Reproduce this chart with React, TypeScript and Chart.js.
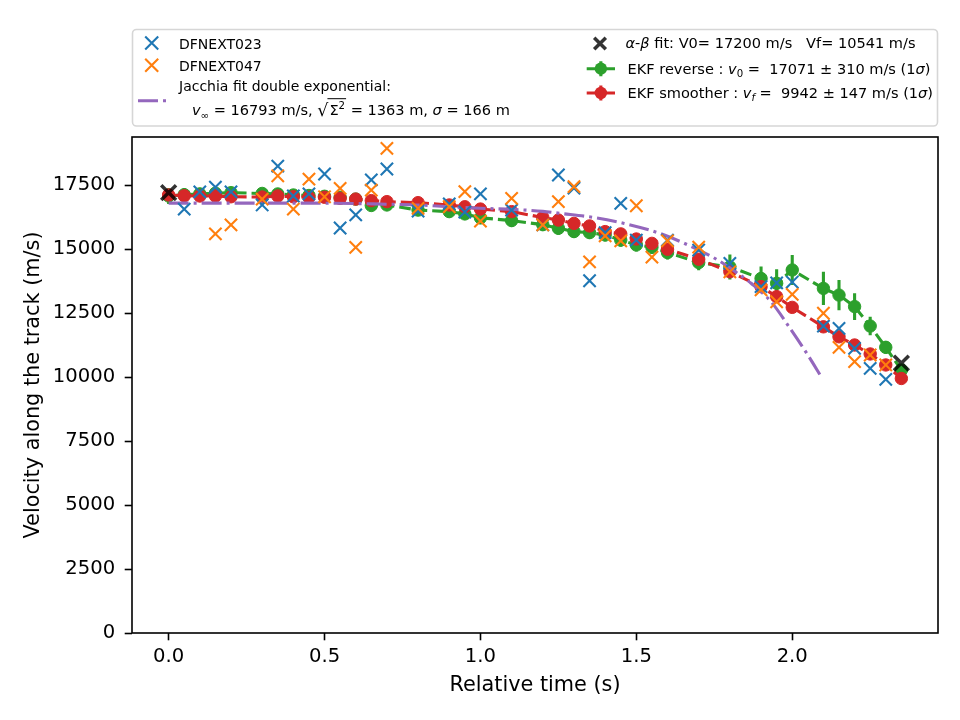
import { useEffect, useRef } from 'react';
import { Chart, registerables } from 'chart.js';

Chart.register(...registerables);

const FONT = '"DejaVu Sans", "Liberation Sans", sans-serif';

// Observations, station DFNEXT023
const t023 = [0.05, 0.1, 0.15, 0.2, 0.3, 0.35, 0.4, 0.45, 0.5, 0.55, 0.6, 0.65, 0.7, 0.8, 0.9, 0.95, 1.0, 1.1, 1.2, 1.25, 1.3, 1.35, 1.4, 1.45, 1.5, 1.6, 1.7, 1.8, 1.9, 1.95, 2.0, 2.1, 2.15, 2.2, 2.25, 2.3];
const v023 = [16560, 17230, 17420, 17230, 16720, 18240, 17070, 17150, 17930, 15820, 16330, 17700, 18125, 16480, 16760, 16445, 17150, 16520, 15940, 17890, 17380, 13760, 15640, 16785, 15350, 15350, 14960, 14440, 13530, 13680, 13710, 11990, 11900, 11120, 10340, 9910];

// Observations, station DFNEXT047
const t047 = [0.15, 0.2, 0.3, 0.35, 0.4, 0.45, 0.5, 0.55, 0.6, 0.65, 0.7, 0.8, 0.9, 0.95, 1.0, 1.1, 1.2, 1.25, 1.3, 1.35, 1.4, 1.45, 1.5, 1.55, 1.6, 1.7, 1.8, 1.9, 1.95, 2.0, 2.1, 2.15, 2.2, 2.25, 2.3];
const v047 = [15590, 15940, 16950, 17860, 16560, 17730, 17040, 17370, 15060, 17300, 18930, 16590, 16650, 17240, 16090, 16980, 15940, 16850, 17440, 14500, 15510, 15320, 16690, 14680, 15320, 15070, 14110, 13400, 12940, 13230, 12490, 11160, 10600, 10860, 10470];

// Jacchia double exponential fit
const jacchiaT = [0, 0.5, 0.7, 0.8, 0.9, 1.0, 1.1, 1.2, 1.257, 1.359, 1.461, 1.568, 1.665, 1.761, 1.825, 1.868, 1.932, 1.991, 2.05, 2.093];
const jacchiaV = [16793, 16790, 16750, 16720, 16650, 16590, 16550, 16470, 16390, 16240, 16000, 15640, 15160, 14570, 14050, 13660, 12940, 11940, 10860, 10010];

// alpha-beta fit end points
const abT = [0, 2.35];
const abV = [17200, 10541];

// EKF epochs (shared by both filters)
const ekfT = [0, 0.05, 0.1, 0.15, 0.2, 0.3, 0.35, 0.4, 0.45, 0.5, 0.55, 0.6, 0.65, 0.7, 0.8, 0.9, 0.95, 1.0, 1.1, 1.2, 1.25, 1.3, 1.35, 1.4, 1.45, 1.5, 1.55, 1.6, 1.7, 1.8, 1.9, 1.95, 2.0, 2.1, 2.15, 2.2, 2.25, 2.3, 2.35];
const ekfRevV = [17071, 17120, 17150, 17180, 17200, 17170, 17150, 17110, 17090, 17060, 17020, 16950, 16700, 16720, 16520, 16460, 16370, 16220, 16110, 15950, 15810, 15680, 15640, 15550, 15350, 15160, 15070, 14860, 14470, 14300, 13850, 13660, 14180, 13460, 13200, 12750, 11990, 11160, 10270];
const ekfRevErr = [310, 260, 240, 230, 220, 220, 220, 220, 220, 220, 220, 220, 230, 230, 230, 240, 240, 250, 250, 250, 250, 250, 250, 260, 260, 260, 270, 270, 300, 490, 470, 550, 590, 650, 590, 520, 360, 250, 150];
const ekfSmoV = [17110, 17080, 17070, 17070, 17040, 17030, 17070, 17040, 17020, 17020, 16980, 16950, 16890, 16850, 16810, 16720, 16650, 16560, 16460, 16230, 16130, 16000, 15900, 15680, 15590, 15390, 15220, 14990, 14600, 14110, 13530, 13140, 12720, 11960, 11570, 11250, 10900, 10470, 9942];
const ekfSmoErr = [120, 120, 120, 120, 120, 120, 120, 120, 120, 120, 120, 120, 120, 120, 120, 120, 120, 130, 130, 130, 130, 130, 130, 130, 130, 130, 130, 130, 140, 140, 140, 140, 140, 150, 150, 150, 150, 150, 147];

// Axis ticks
const xTicks = [0, 0.5, 1.0, 1.5, 2.0];
const yTicks = [0, 2500, 5000, 7500, 10000, 12500, 15000, 17500];

const BLUE = '#1f77b4';
const ORANGE = '#ff7f0e';
const GREEN = '#2ca02c';
const RED = '#d62728';
const PURPLE = '#9467bd';
const DARK = 'rgba(0,0,0,0.8)';

const pts = (xs: number[], ys: number[]) => xs.map((x, i) => ({ x, y: ys[i] }));

type Seg = { t: string; it?: boolean; sub?: boolean; sup?: boolean };

function drawRich(ctx: CanvasRenderingContext2D, x: number, y: number, segs: Seg[], size: number) {
  let cx = x;
  for (const s of segs) {
    const fs = s.sub || s.sup ? size * 0.7 : size;
    ctx.font = `${s.it ? 'italic ' : ''}${fs}px ${FONT}`;
    const dy = s.sub ? size * 0.22 : s.sup ? -size * 0.45 : 0;
    ctx.fillText(s.t, cx, y + dy);
    cx += ctx.measureText(s.t).width;
  }
  return cx;
}

function drawCross(ctx: CanvasRenderingContext2D, x: number, y: number, h: number, color: string, lw: number) {
  ctx.save();
  ctx.strokeStyle = color;
  ctx.lineWidth = lw;
  ctx.beginPath();
  ctx.moveTo(x - h, y - h);
  ctx.lineTo(x + h, y + h);
  ctx.moveTo(x + h, y - h);
  ctx.lineTo(x - h, y + h);
  ctx.stroke();
  ctx.restore();
}

function drawErrHandle(ctx: CanvasRenderingContext2D, x0: number, x1: number, y: number, color: string) {
  ctx.save();
  ctx.strokeStyle = color;
  ctx.fillStyle = color;
  ctx.lineWidth = 3.1;
  ctx.beginPath();
  ctx.moveTo(x0, y);
  ctx.lineTo(x1, y);
  const xm = (x0 + x1) / 2;
  ctx.moveTo(xm, y - 7.5);
  ctx.lineTo(xm, y + 7.5);
  ctx.stroke();
  ctx.beginPath();
  ctx.arc(xm, y, 6.2, 0, Math.PI * 2);
  ctx.fill();
  ctx.restore();
}

// vertical error bars, drawn just before their own dataset
const errorBars = {
  id: 'errorBars',
  beforeDatasetDraw(chart: any, args: any) {
    const ds = chart.data.datasets[args.index];
    if (!ds.errors) return;
    const { ctx, scales } = chart;
    const xs = scales.x;
    const ys = scales.y;
    ctx.save();
    ctx.strokeStyle = ds.borderColor;
    ctx.lineWidth = 3.1;
    ctx.beginPath();
    ds.data.forEach((p: { x: number; y: number }, i: number) => {
      const px = xs.getPixelForValue(p.x);
      ctx.moveTo(px, ys.getPixelForValue(p.y - ds.errors[i]));
      ctx.lineTo(px, ys.getPixelForValue(p.y + ds.errors[i]));
    });
    ctx.stroke();
    ctx.restore();
  },
};

// axes frame and legend block above the plot
const decorations = {
  id: 'decorations',
  afterDatasetsDraw(chart: any) {
    const { ctx, chartArea: a } = chart;
    ctx.save();
    ctx.strokeStyle = '#000';
    ctx.lineWidth = 1.6;
    ctx.strokeRect(a.left, a.top, a.right - a.left, a.bottom - a.top);
    ctx.restore();
  },
  afterDraw(chart: any) {
    const ctx: CanvasRenderingContext2D = chart.ctx;
    const a = chart.chartArea;
    ctx.save();
    // box
    const bx = a.left + 0.5, by = 29.5, bw = a.right - a.left - 1, bh = 96.5, r = 4;
    ctx.beginPath();
    ctx.moveTo(bx + r, by);
    ctx.arcTo(bx + bw, by, bx + bw, by + bh, r);
    ctx.arcTo(bx + bw, by + bh, bx, by + bh, r);
    ctx.arcTo(bx, by + bh, bx, by, r);
    ctx.arcTo(bx, by, bx + bw, by, r);
    ctx.closePath();
    ctx.fillStyle = '#fff';
    ctx.fill();
    ctx.strokeStyle = '#d6d6d6';
    ctx.lineWidth = 1.6;
    ctx.stroke();

    const fs = 14;
    const ms = 14.55;
    ctx.fillStyle = '#000';
    ctx.textBaseline = 'alphabetic';
    ctx.textAlign = 'left';

    // left column
    drawCross(ctx, 151.7, 43, 6.5, BLUE, 2.1);
    drawRich(ctx, 179, 48.5, [{ t: 'DFNEXT023' }], fs);
    drawCross(ctx, 151.7, 65.3, 6.5, ORANGE, 2.1);
    drawRich(ctx, 179, 70.5, [{ t: 'DFNEXT047' }], fs);
    ctx.save();
    ctx.strokeStyle = PURPLE;
    ctx.lineWidth = 3.1;
    ctx.setLineDash([20, 5, 3, 5]);
    ctx.beginPath();
    ctx.moveTo(138, 100.7);
    ctx.lineTo(166, 100.7);
    ctx.stroke();
    ctx.restore();
    ctx.fillStyle = '#000';
    drawRich(ctx, 179, 91.3, [{ t: 'Jacchia fit double exponential:' }], fs);
    let cx = drawRich(ctx, 192, 115.3, [{ t: 'v', it: true }, { t: '∞', sub: true }, { t: ' = 16793 m/s, ' }], ms);
    ctx.font = `${ms * 1.2}px ${FONT}`;
    ctx.fillText('√', cx, 116.3);
    cx += ctx.measureText('√').width;
    const radStart = cx - 1;
    cx = drawRich(ctx, cx + 1, 115.3, [{ t: 'Σ' }, { t: '2', sup: true }], ms);
    ctx.save();
    ctx.strokeStyle = '#000';
    ctx.lineWidth = 1;
    ctx.beginPath();
    ctx.moveTo(radStart, 98.7);
    ctx.lineTo(cx + 1, 98.7);
    ctx.stroke();
    ctx.restore();
    drawRich(ctx, cx + 1, 115.3, [{ t: ' = 1363 m, ' }, { t: 'σ', it: true }, { t: ' = 166 m' }], ms);

    // right column
    drawCross(ctx, 600, 43.5, 5.8, DARK, 3.5);
    drawRich(ctx, 625.5, 48, [{ t: 'α', it: true }, { t: '-' }, { t: 'β', it: true }, { t: ' fit: V0= 17200 m/s   Vf= 10541 m/s' }], ms);
    drawErrHandle(ctx, 586.7, 615, 68.7, GREEN);
    ctx.fillStyle = '#000';
    drawRich(ctx, 627.5, 73.7, [{ t: 'EKF reverse : ' }, { t: 'v', it: true }, { t: '0', sub: true }, { t: ' =  17071 ± 310 m/s (1' }, { t: 'σ', it: true }, { t: ')' }], ms);
    drawErrHandle(ctx, 586.7, 615, 93, RED);
    ctx.fillStyle = '#000';
    drawRich(ctx, 627.5, 97.5, [{ t: 'EKF smoother : ' }, { t: 'v', it: true }, { t: 'f', sub: true, it: true }, { t: ' =  9942 ± 147 m/s (1' }, { t: 'σ', it: true }, { t: ')' }], ms);
    ctx.restore();
  },
};

export default function App() {
  const ref = useRef<HTMLCanvasElement | null>(null);

  useEffect(() => {
    if (!ref.current) return;
    const dashed = [11.6, 5];
    const chart = new Chart(ref.current, {
      type: 'line',
      data: {
        datasets: [
          {
            label: 'alpha-beta fit',
            data: pts(abT, abV),
            showLine: false,
            pointStyle: 'crossRot',
            pointRadius: 10.5,
            pointBorderWidth: 3.5,
            pointBorderColor: DARK,
            pointBackgroundColor: DARK,
            order: 0,
          },
          {
            label: 'DFNEXT047',
            data: pts(t047, v047),
            showLine: false,
            pointStyle: 'crossRot',
            pointRadius: 8.7,
            pointBorderWidth: 2.1,
            pointBorderColor: ORANGE,
            pointBackgroundColor: ORANGE,
            order: 1,
          },
          {
            label: 'DFNEXT023',
            data: pts(t023, v023),
            showLine: false,
            pointStyle: 'crossRot',
            pointRadius: 8.7,
            pointBorderWidth: 2.1,
            pointBorderColor: BLUE,
            pointBackgroundColor: BLUE,
            order: 2,
          },
          {
            label: 'Jacchia fit',
            data: pts(jacchiaT, jacchiaV),
            borderColor: PURPLE,
            borderWidth: 3.1,
            borderDash: [20, 5, 3, 5],
            pointRadius: 0,
            cubicInterpolationMode: 'monotone',
            order: 3,
          },
          {
            label: 'EKF smoother',
            data: pts(ekfT, ekfSmoV),
            errors: ekfSmoErr,
            borderColor: RED,
            borderWidth: 3.1,
            borderDash: dashed,
            pointRadius: 6.2,
            pointBorderWidth: 1,
            pointBorderColor: RED,
            pointBackgroundColor: RED,
            order: 4,
          } as any,
          {
            label: 'EKF reverse',
            data: pts(ekfT, ekfRevV),
            errors: ekfRevErr,
            borderColor: GREEN,
            borderWidth: 3.1,
            borderDash: dashed,
            pointRadius: 6.2,
            pointBorderWidth: 1,
            pointBorderColor: GREEN,
            pointBackgroundColor: GREEN,
            order: 5,
          } as any,
        ],
      },
      options: {
        responsive: false,
        animation: false,
        events: [],
        layout: { padding: { left: 0, top: 137, right: 22, bottom: 0 } },
        plugins: { legend: { display: false }, tooltip: { enabled: false } },
        scales: {
          x: {
            type: 'linear',
            min: -0.1175,
            max: 2.4675,
            afterBuildTicks: (s: any) => {
              s.ticks = xTicks.map((v) => ({ value: v }));
            },
            afterFit: (s: any) => {
              s.height = 87;
            },
            ticks: {
              callback: (v: any) => Number(v).toFixed(1),
              font: { family: FONT, size: 19.6 },
              color: '#000',
              padding: 5,
              maxRotation: 0,
            },
            grid: { drawOnChartArea: false, drawTicks: true, tickLength: 7.3, tickWidth: 1.6, tickColor: '#000' },
            border: { display: false },
            title: {
              display: true,
              text: 'Relative time (s)',
              font: { family: FONT, size: 20.8 },
              color: '#000',
              padding: { top: 0, bottom: 22 },
            },
          },
          y: {
            type: 'linear',
            min: 0,
            max: 19375,
            afterBuildTicks: (s: any) => {
              s.ticks = yTicks.map((v) => ({ value: v }));
            },
            afterFit: (s: any) => {
              s.width = 132;
            },
            ticks: {
              callback: (v: any) => String(v),
              font: { family: FONT, size: 19.6 },
              color: '#000',
              padding: 9.5,
            },
            grid: { drawOnChartArea: false, drawTicks: true, tickLength: 7.3, tickWidth: 1.6, tickColor: '#000' },
            border: { display: false },
            title: {
              display: true,
              text: 'Velocity along the track (m/s)',
              font: { family: FONT, size: 20.8 },
              color: '#000',
              padding: { top: 21, bottom: 0 },
            },
          },
        },
      },
      plugins: [errorBars, decorations],
    });
    return () => chart.destroy();
  }, []);

  return (
    <div style={{ position: 'fixed', left: 0, top: 0, width: 960, height: 720, background: '#fff' }}>
      <canvas ref={ref} width={960} height={720} style={{ display: 'block', width: 960, height: 720 }} />
    </div>
  );
}
